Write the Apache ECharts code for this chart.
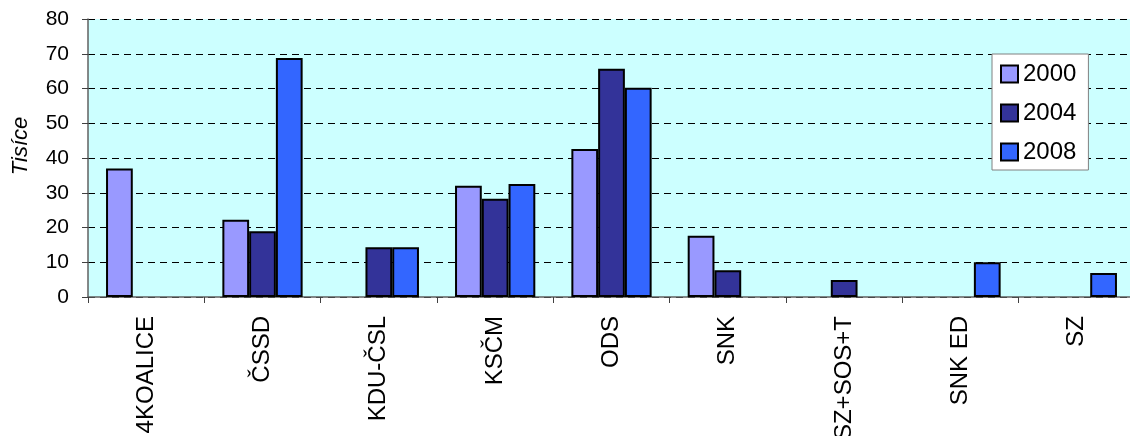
<!DOCTYPE html>
<html>
<head>
<meta charset="utf-8">
<script src="https://cdn.jsdelivr.net/npm/echarts@6/dist/echarts.min.js"></script>
<style>
html,body{margin:0;padding:0;background:#fff;}
#c{width:1130px;height:436px;}
</style>
</head>
<body>
<div id="c"></div>
<script>
const categories = ['4KOALICE', 'ČSSD', 'KDU-ČSL', 'KSČM', 'ODS', 'SNK', 'SZ+SOS+T', 'SNK ED', 'SZ'];
const seriesNames = ['2000', '2004', '2008'];
const values2000 = [37.0, 22.2, null, 32.0, 42.6, 17.6, null, null, null];
const values2004 = [null, 18.9, 14.3, 28.3, 65.7, 7.7, 4.9, null, null];
const values2008 = [null, 68.8, 14.3, 32.5, 60.2, null, null, 10.0, 6.9];
const yTicks = [0, 10, 20, 30, 40, 50, 60, 70, 80];
const titleText = 'Počty hlasů pro jednotlivé strany';
const yName = 'Tisíce';

const colors = ['#9999FF', '#333399', '#3366FF'];
const font = '"Liberation Sans", Arial, sans-serif';
const chart = echarts.init(document.getElementById('c'), null, {renderer: 'canvas'});

function mk(name, data, color) {
  return {
    name: name, type: 'bar', data: data,
    barGap: '0%', barCategoryGap: '31%',
    itemStyle: {color: color, borderColor: '#000', borderWidth: 2},
    emphasis: {disabled: true}
  };
}

chart.setOption({
  animation: false,
  backgroundColor: '#fff',
  title: {
    text: titleText, left: 'center', top: -27,
    textStyle: {fontFamily: font, fontSize: 22, fontWeight: 'bold', color: '#000'}
  },
  grid: {left: 88, top: 19, right: -5, bottom: 139, show: true, backgroundColor: '#CCFFFF', borderWidth: 0,
         containLabel: false, outerBoundsMode: 'none'},
  legend: {
    orient: 'vertical', left: 992, top: 54,
    data: seriesNames,
    backgroundColor: '#fff', borderColor: '#808080', borderWidth: 1,
    padding: [8, 12, 6, 8],
    itemWidth: 17, itemHeight: 17, itemGap: 15, itemTextGap: 6,
    icon: 'rect',
    textStyle: {fontFamily: font, fontSize: 24, color: '#000'},
    itemStyle: {borderColor: '#000', borderWidth: 2}
  },
  graphic: [{
    type: 'text', x: 21, y: 146, rotation: Math.PI / 2,
    style: {text: yName, font: 'italic 22px ' + font, fill: '#000', align: 'center', verticalAlign: 'middle'}
  }],
  xAxis: {
    type: 'category', data: categories,
    axisLine: {lineStyle: {color: '#606060', width: 1.5}},
    axisTick: {show: true, length: 6, inside: false, lineStyle: {color: '#404040'}},
    axisLabel: {rotate: 90, margin: 19, interval: 0, fontFamily: font, fontSize: 24, color: '#000'},
    splitLine: {show: false}
  },
  yAxis: {
    type: 'value', min: yTicks[0], max: yTicks[yTicks.length - 1], interval: yTicks[1] - yTicks[0],
    axisLine: {show: true, lineStyle: {color: '#606060', width: 1.5}},
    axisTick: {show: true, length: 6, lineStyle: {color: '#404040'}},
    axisLabel: {margin: 19, fontFamily: font, fontSize: 21, color: '#000'},
    splitLine: {show: true, lineStyle: {color: '#000', type: [7, 5], width: 1}}
  },
  series: [mk(seriesNames[0], values2000, colors[0]), mk(seriesNames[1], values2004, colors[1]), mk(seriesNames[2], values2008, colors[2])]
});
</script>
</body>
</html>
